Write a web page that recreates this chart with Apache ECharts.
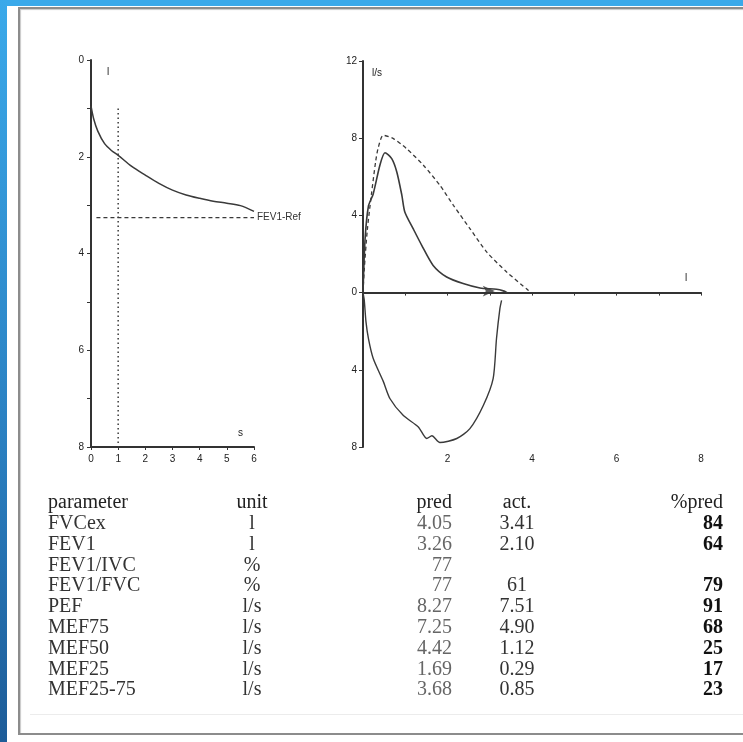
<!DOCTYPE html>
<html>
<head>
<meta charset="utf-8">
<script src="https://cdn.jsdelivr.net/npm/echarts@6/dist/echarts.min.js"></script>
<style>
	html, body { margin: 0; padding: 0; background: #fff; }
	#page { position: relative; width: 743px; height: 742px; overflow: hidden; background: #fff; }
	#blueTop { position: absolute; left: 0; top: 0; width: 743px; height: 6px; background: #3aa9ea; }
	#blueLeft { position: absolute; left: 0; top: 0; width: 7px; height: 742px; background: linear-gradient(#3aa9ea, #2a7fc0 60%, #1d5c98); }
	#frame { position: absolute; left: 18px; top: 7px; width: 760px; height: 724px; border: 2px solid #8c8c8c; box-shadow: 1px 1px 1px #c8c8c8 inset; }
	#rule { position: absolute; left: 30px; top: 714px; width: 713px; height: 1px; background: #ececec; }
	#main { position: absolute; left: 0; top: 0; width: 743px; height: 742px; }
</style>
</head>
<body>
<div id="page">
	<div id="blueTop"></div>
	<div id="blueLeft"></div>
	<div id="frame"></div>
	<div id="rule"></div>
	<div id="main"></div>
</div>
<script>
	/*volume-time curve (s, l)*/
	var timeS = [0, 0.1, 0.25, 0.5, 0.75, 1, 1.5, 2, 2.5, 3, 3.5, 4, 4.5, 5, 5.5, 6];
	var volL = [0.95, 1.22, 1.47, 1.73, 1.87, 1.97, 2.2, 2.38, 2.55, 2.69, 2.79, 2.86, 2.92, 2.96, 3.01, 3.13];
	var fev1Ref = 3.26;

	/*flow-volume loop (l, l/s)*/
	var expVol = [0, 0.05, 0.13, 0.24, 0.4, 0.52, 0.68, 0.8, 0.92, 0.99, 1.19, 1.39, 1.66, 1.98, 2.37, 2.77, 3.16, 3.32, 3.41];
	var expFlow = [0, 2.8, 4.5, 5.1, 6.6, 7.25, 6.94, 6.25, 5.04, 4.18, 3.3, 2.45, 1.41, 0.81, 0.47, 0.24, 0.17, 0.09, 0];
	var predVol = [0, 0.03, 0.1, 0.2, 0.3, 0.36, 0.48, 0.72, 1.03, 1.43, 1.82, 2.14, 2.53, 2.93, 3.4, 3.91, 3.96];
	var predFlow = [0, 1.2, 3.2, 5.1, 6.8, 7.5, 8.15, 7.98, 7.46, 6.6, 5.56, 4.52, 3.32, 2.1, 1.07, 0.12, 0];
	var inspVol = [0, 0.03, 0.07, 0.13, 0.24, 0.48, 0.64, 0.95, 1.31, 1.51, 1.63, 1.82, 2.22, 2.53, 2.85, 3.08, 3.16, 3.24, 3.28];
	var inspFlow = [0, -0.4, -1.5, -2.4, -3.4, -4.6, -5.5, -6.36, -6.96, -7.56, -7.42, -7.77, -7.56, -7.05, -5.84, -4.46, -2.38, -0.83, -0.4];

	/*table*/
	var tabHead = ['parameter', 'unit', 'pred', 'act.', '%pred'];
	var params = ['FVCex', 'FEV1', 'FEV1/IVC', 'FEV1/FVC', 'PEF', 'MEF75', 'MEF50', 'MEF25', 'MEF25-75'];
	var units = ['l', 'l', '%', '%', 'l/s', 'l/s', 'l/s', 'l/s', 'l/s'];
	var predVals = ['4.05', '3.26', '77', '77', '8.27', '7.25', '4.42', '1.69', '3.68'];
	var actVals = ['3.41', '2.10', '', '61', '7.51', '4.90', '1.12', '0.29', '0.85'];
	var pctPred = ['84', '64', '', '79', '91', '68', '25', '17', '23'];

	function pairs(xs, ys) {
		var out = [];
		for (var i = 0; i < xs.length; i++) out.push([xs[i], ys[i]]);
		return out;
	}

	var axisCol = '#333';
	var lineCol = '#3a3a3a';
	var labelFont = { fontSize: 10, color: '#222', fontFamily: 'Liberation Sans' };

	// 表格文字
	var graphics = [];
	var colX = [48, 252, 452, 517, 723];
	var colAlign = ['left', 'center', 'right', 'center', 'right'];
	var serif = 'Liberation Serif';
	function addText(x, y, txt, align, color, weight) {
		graphics.push({
			type: 'text', x: x, y: y,
			style: { text: txt, align: align, verticalAlign: 'middle', fill: color, font: (weight || 'normal') + ' 20px "' + serif + '"' }
		});
	}
	var rowY0 = 503, rowDy = 20.8;
	for (var c = 0; c < tabHead.length; c++) {
		addText(colX[c], rowY0, tabHead[c], colAlign[c], '#222');
	}
	for (var r = 0; r < params.length; r++) {
		var y = rowY0 + (r + 1) * rowDy;
		addText(colX[0], y, params[r], 'left', '#333');
		addText(colX[1], y, units[r], 'center', '#333');
		addText(colX[2], y, predVals[r], 'right', '#666');
		addText(colX[3], y, actVals[r], 'center', '#333');
		addText(colX[4], y, pctPred[r], 'right', '#111', 'bold');
	}
	// 单位标注
	var unitFont = '10px "Liberation Sans"';
	graphics.push({ type: 'text', x: 107, y: 72, style: { text: 'l', font: unitFont, fill: '#222', verticalAlign: 'middle' } });
	graphics.push({ type: 'text', x: 238, y: 433, style: { text: 's', font: unitFont, fill: '#222', verticalAlign: 'middle' } });
	graphics.push({ type: 'text', x: 372, y: 73, style: { text: 'l/s', font: unitFont, fill: '#222', verticalAlign: 'middle' } });
	graphics.push({ type: 'text', x: 685, y: 278, style: { text: 'l', font: unitFont, fill: '#222', verticalAlign: 'middle' } });

	var myChart = echarts.init(document.getElementById('main'));

	var option = {
		animation: false,
		grid: [
			{ left: 91, top: 60, width: 163, height: 387 },
			{ left: 363, top: 61, width: 338, height: 386 }
		],
		xAxis: [{
			gridIndex: 0, type: 'value', min: 0, max: 6, interval: 1,
			axisLine: { onZero: false, lineStyle: { color: axisCol, width: 2 } },
			axisTick: { length: 3, lineStyle: { color: axisCol } },
			axisLabel: Object.assign({ margin: 7 }, labelFont),
			splitLine: { show: false }
		}, {
			gridIndex: 1, type: 'value', min: 0, max: 8, interval: 1,
			axisLine: { onZero: true, lineStyle: { color: axisCol, width: 2 } },
			axisTick: { length: 3, lineStyle: { color: axisCol } },
			axisLabel: Object.assign({
				margin: 7,
				formatter: function(v) { return (v % 2 === 0 && v !== 0) ? v : ''; }
			}, labelFont),
			splitLine: { show: false }
		}],
		yAxis: [{
			gridIndex: 0, type: 'value', min: 0, max: 8, interval: 1, inverse: true,
			axisLine: { show: true, onZero: false, lineStyle: { color: axisCol, width: 2 } },
			axisTick: { show: true, length: 4, lineStyle: { color: axisCol } },
			axisLabel: Object.assign({
				margin: 7,
				formatter: function(v) { return v % 2 === 0 ? v : ''; }
			}, labelFont),
			splitLine: { show: false }
		}, {
			gridIndex: 1, type: 'value', min: -8, max: 12, interval: 4,
			axisLine: { show: true, onZero: false, lineStyle: { color: axisCol, width: 2 } },
			axisTick: { show: true, length: 4, lineStyle: { color: axisCol } },
			axisLabel: Object.assign({
				margin: 6,
				formatter: function(v) { return Math.abs(v); }
			}, labelFont),
			splitLine: { show: false }
		}],
		series: [{
			name: 'volume',
			type: 'line', xAxisIndex: 0, yAxisIndex: 0,
			data: pairs(timeS, volL),
			smooth: 0.3, showSymbol: false,
			lineStyle: { color: lineCol, width: 1.5 }
		}, {
			name: 'FEV1-Ref',
			type: 'line', xAxisIndex: 0, yAxisIndex: 0,
			data: [[0.2, fev1Ref], [6, fev1Ref]],
			showSymbol: false,
			lineStyle: { color: lineCol, width: 1.2, type: [4, 3] },
			endLabel: { show: true, formatter: 'FEV1-Ref', distance: 3, fontSize: 10, color: '#333', fontFamily: 'Liberation Sans' }
		}, {
			name: '1s',
			type: 'line', xAxisIndex: 0, yAxisIndex: 0,
			data: [[1, 1], [1, 8]],
			showSymbol: false,
			lineStyle: { color: lineCol, width: 1.5, type: [1.5, 3] }
		}, {
			name: 'exp',
			type: 'line', xAxisIndex: 1, yAxisIndex: 1,
			data: pairs(expVol, expFlow),
			smooth: 0.25, showSymbol: false,
			lineStyle: { color: lineCol, width: 1.6 }
		}, {
			name: 'pred',
			type: 'line', xAxisIndex: 1, yAxisIndex: 1,
			data: pairs(predVol, predFlow),
			smooth: 0.25, showSymbol: false,
			lineStyle: { color: lineCol, width: 1.3, type: [4, 3] }
		}, {
			name: 'insp',
			type: 'line', xAxisIndex: 1, yAxisIndex: 1,
			data: pairs(inspVol, inspFlow),
			smooth: 0.25, showSymbol: false,
			lineStyle: { color: lineCol, width: 1.4 }
		}, {
			name: 'end',
			type: 'scatter', xAxisIndex: 1, yAxisIndex: 1,
			data: [[3.12, 0.08]],
			symbol: 'arrow', symbolSize: [8, 12], symbolRotate: -90,
			itemStyle: { color: '#333' }
		}],
		graphic: graphics
	};

	myChart.setOption(option);
</script>
</body>
</html>
